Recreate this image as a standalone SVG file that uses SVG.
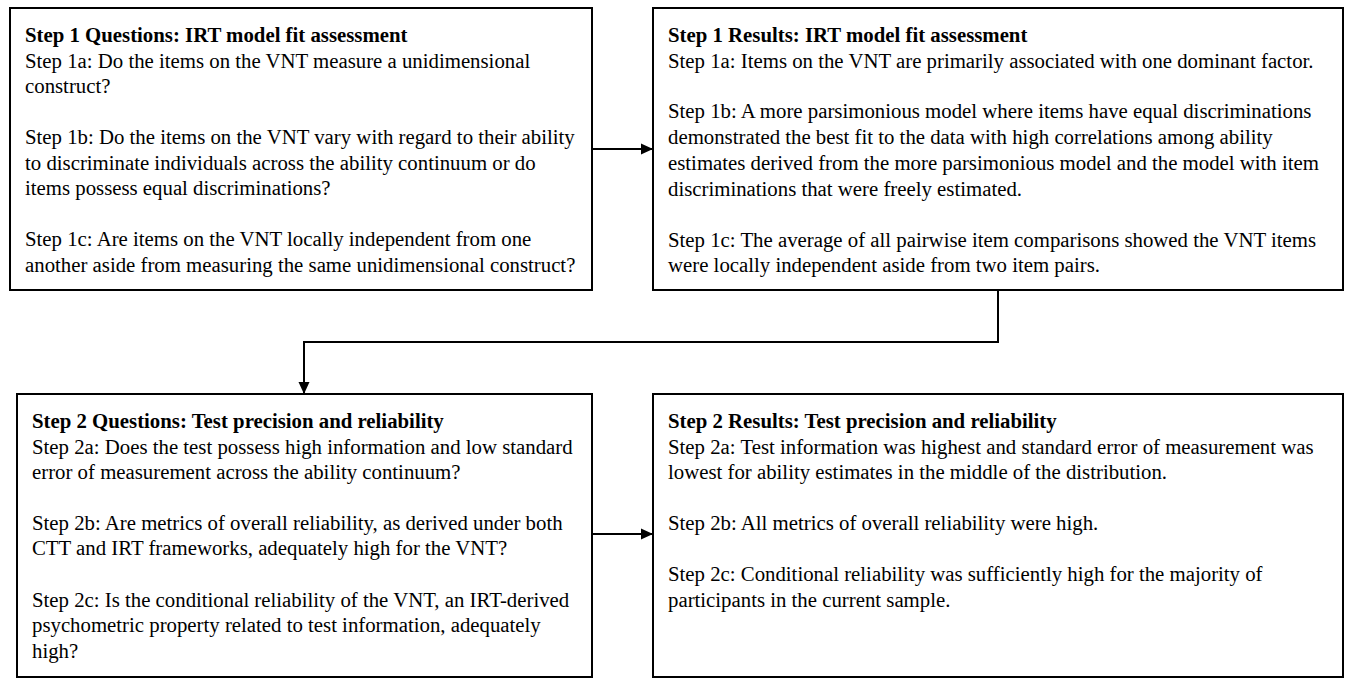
<svg xmlns="http://www.w3.org/2000/svg" width="1348" height="686" viewBox="0 0 1348 686">
<style>
.box{fill:#fff;stroke:#000;stroke-width:2}
text{font-family:"Liberation Serif","Times New Roman",serif;font-size:20.8px;fill:#000}
.t{font-weight:bold}
.c{fill:none;stroke:#000;stroke-width:2}
</style>
<defs>
<marker id="ah" markerWidth="12" markerHeight="12" refX="11" refY="6" orient="auto" markerUnits="userSpaceOnUse">
<path d="M0,0.5 L12,6 L0,11.5 Z" fill="#000"/>
</marker>
</defs>
<rect width="1348" height="686" fill="#fff"/>
<g id="q1">
<rect class="box" x="10" y="8" width="582" height="282"/>
<text x="25" y="42" class="t">Step 1 Questions: IRT model fit assessment</text>
<text x="25" y="68">Step 1a: Do the items on the VNT measure a unidimensional</text>
<text x="25" y="93">construct?</text>
<text x="25" y="144">Step 1b: Do the items on the VNT vary with regard to their ability</text>
<text x="25" y="170">to discriminate individuals across the ability continuum or do</text>
<text x="25" y="195">items possess equal discriminations?</text>
<text x="25" y="246">Step 1c: Are items on the VNT locally independent from one</text>
<text x="25" y="272">another aside from measuring the same unidimensional construct?</text>
</g>
<g id="r1">
<rect class="box" x="653" y="8" width="690" height="282"/>
<text x="668" y="42" class="t">Step 1 Results: IRT model fit assessment</text>
<text x="668" y="68">Step 1a: Items on the VNT are primarily associated with one dominant factor.</text>
<text x="668" y="118">Step 1b: A more parsimonious model where items have equal discriminations</text>
<text x="668" y="144">demonstrated the best fit to the data with high correlations among ability</text>
<text x="668" y="170">estimates derived from the more parsimonious model and the model with item</text>
<text x="668" y="196">discriminations that were freely estimated.</text>
<text x="668" y="247">Step 1c: The average of all pairwise item comparisons showed the VNT items</text>
<text x="668" y="272">were locally independent aside from two item pairs.</text>
</g>
<g id="q2">
<rect class="box" x="17" y="394" width="575" height="283"/>
<text x="32" y="428" class="t">Step 2 Questions: Test precision and reliability</text>
<text x="32" y="454">Step 2a: Does the test possess high information and low standard</text>
<text x="32" y="479">error of measurement across the ability continuum?</text>
<text x="32" y="530">Step 2b: Are metrics of overall reliability, as derived under both</text>
<text x="32" y="555">CTT and IRT frameworks, adequately high for the VNT?</text>
<text x="32" y="607">Step 2c: Is the conditional reliability of the VNT, an IRT-derived</text>
<text x="32" y="632">psychometric property related to test information, adequately</text>
<text x="32" y="658">high?</text>
</g>
<g id="r2">
<rect class="box" x="653" y="394" width="690" height="283"/>
<text x="668" y="428" class="t">Step 2 Results: Test precision and reliability</text>
<text x="668" y="454">Step 2a: Test information was highest and standard error of measurement was</text>
<text x="668" y="479">lowest for ability estimates in the middle of the distribution.</text>
<text x="668" y="530">Step 2b: All metrics of overall reliability were high.</text>
<text x="668" y="581">Step 2c: Conditional reliability was sufficiently high for the majority of</text>
<text x="668" y="607">participants in the current sample.</text>
</g>
<g id="connectors">
<line class="c" x1="592" y1="149" x2="652" y2="149" marker-end="url(#ah)"/>
<polyline class="c" points="998,290 998,342 304,342 304,393" marker-end="url(#ah)"/>
<line class="c" x1="592" y1="534" x2="652" y2="534" marker-end="url(#ah)"/>
</g>
</svg>
